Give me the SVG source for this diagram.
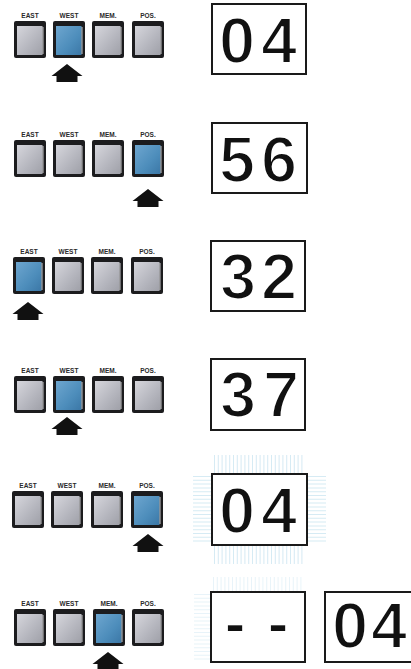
<svg xmlns="http://www.w3.org/2000/svg" width="411" height="669" viewBox="0 0 411 669">
<defs>
<linearGradient id="gGray" x1="0" y1="0" x2="1" y2="1">
<stop offset="0" stop-color="#d6d6dc"/><stop offset="0.6" stop-color="#b4b5bd"/><stop offset="1" stop-color="#9fa0a8"/>
</linearGradient>
<linearGradient id="gBlue" x1="0" y1="0" x2="1" y2="1">
<stop offset="0" stop-color="#6ea6cf"/><stop offset="0.6" stop-color="#4d8dbb"/><stop offset="1" stop-color="#3b77a6"/>
</linearGradient>
<style>
.frame{fill:#1c1c1e}
.face{fill:url(#gGray)}
.face.on{fill:url(#gBlue)}
.hl{stroke:#f2f2f4;stroke-width:1;fill:none;opacity:0.8}
.lbl{font-family:"Liberation Sans",Arial,sans-serif;font-size:6.5px;font-weight:bold;fill:#2a2a2a;text-anchor:middle}
.arrow{fill:#111}
.box{fill:#fff;stroke:#1a1a1a;stroke-width:2}
.dig{font-family:"Liberation Sans",Arial,sans-serif;font-size:65px;font-weight:bold;fill:#111;stroke:#fff;stroke-width:2.2;paint-order:normal;text-anchor:middle}
.glow{fill:none;stroke:#a6d3e8;stroke-dasharray:1 2.8}
</style>
<g id="btnG"><rect class="frame" width="32" height="37" rx="2"/><rect class="face" x="3" y="5" width="25.5" height="29"/><path class="hl" d="M29,6 V33"/></g>
<g id="btnB"><rect class="frame" width="32" height="37" rx="2"/><rect class="face on" x="3" y="5" width="25.5" height="29"/><path class="hl" d="M29,6 V33"/></g>
<path id="arr" d="M0,0 L15.5,12 L10.5,12 L10.5,18 L-10.5,18 L-10.5,12 L-15.5,12 Z"/>
</defs>
<rect width="411" height="669" fill="#fff"/>

<!-- Row 1 -->
<g id="row1">
<g id="r1-east" transform="translate(14,21)"><use href="#btnG"/><text class="lbl" x="16" y="-3">EAST</text></g>
<g id="r1-west" transform="translate(53,21)"><use href="#btnB"/><text class="lbl" x="16" y="-3">WEST</text></g>
<g id="r1-mem" transform="translate(92,21)"><use href="#btnG"/><text class="lbl" x="16" y="-3">MEM.</text></g>
<g id="r1-pos" transform="translate(132,21)"><use href="#btnG"/><text class="lbl" x="16" y="-3">POS.</text></g>
<g id="r1-display"><rect class="box" x="212" y="4" width="94" height="70"/><text class="dig" x="237 279" y="63">04</text></g>
</g>

<!-- Row 2 -->
<g id="row2">
<g id="r2-east" transform="translate(14,140)"><use href="#btnG"/><text class="lbl" x="16" y="-3">EAST</text></g>
<g id="r2-west" transform="translate(53,140)"><use href="#btnG"/><text class="lbl" x="16" y="-3">WEST</text></g>
<g id="r2-mem" transform="translate(92,140)"><use href="#btnG"/><text class="lbl" x="16" y="-3">MEM.</text></g>
<g id="r2-pos" transform="translate(132,140)"><use href="#btnB"/><text class="lbl" x="16" y="-3">POS.</text></g>
<g id="r2-display"><rect class="box" x="212" y="123" width="95" height="70"/><text class="dig" x="237 279" y="182">56</text></g>
</g>

<!-- Row 3 -->
<g id="row3">
<g id="r3-east" transform="translate(13,257)"><use href="#btnB"/><text class="lbl" x="16" y="-3">EAST</text></g>
<g id="r3-west" transform="translate(52,257)"><use href="#btnG"/><text class="lbl" x="16" y="-3">WEST</text></g>
<g id="r3-mem" transform="translate(91,257)"><use href="#btnG"/><text class="lbl" x="16" y="-3">MEM.</text></g>
<g id="r3-pos" transform="translate(131,257)"><use href="#btnG"/><text class="lbl" x="16" y="-3">POS.</text></g>
<g id="r3-display"><rect class="box" x="211" y="241" width="94" height="70"/><text class="dig" x="238 279" y="299">32</text></g>
</g>

<!-- Row 4 -->
<g id="row4">
<g id="r4-east" transform="translate(14,376)"><use href="#btnG"/><text class="lbl" x="16" y="-3">EAST</text></g>
<g id="r4-west" transform="translate(53,376)"><use href="#btnB"/><text class="lbl" x="16" y="-3">WEST</text></g>
<g id="r4-mem" transform="translate(92,376)"><use href="#btnG"/><text class="lbl" x="16" y="-3">MEM.</text></g>
<g id="r4-pos" transform="translate(132,376)"><use href="#btnG"/><text class="lbl" x="16" y="-3">POS.</text></g>
<g id="r4-display"><rect class="box" x="211" y="359" width="94" height="71"/><text class="dig" x="238 281" y="417">37</text></g>
</g>

<!-- Row 5 -->
<g id="row5">
<g id="r5-east" transform="translate(12,491)"><use href="#btnG"/><text class="lbl" x="16" y="-3">EAST</text></g>
<g id="r5-west" transform="translate(51,491)"><use href="#btnG"/><text class="lbl" x="16" y="-3">WEST</text></g>
<g id="r5-mem" transform="translate(91,491)"><use href="#btnG"/><text class="lbl" x="16" y="-3">MEM.</text></g>
<g id="r5-pos" transform="translate(131,491)"><use href="#btnB"/><text class="lbl" x="16" y="-3">POS.</text></g>
<g id="r5-display">
<g class="glow" opacity="0.45">
<line x1="214" y1="464" x2="305" y2="464" stroke-width="18"/>
<line x1="214" y1="555" x2="305" y2="555" stroke-width="18"/>
<line x1="202" y1="476" x2="202" y2="543" stroke-width="18"/>
<line x1="317" y1="476" x2="317" y2="543" stroke-width="18"/>
</g>
<rect class="box" x="212" y="474" width="95" height="71"/><text class="dig" x="237 279" y="533">04</text></g>
</g>

<!-- Row 6 -->
<g id="row6">
<g id="r6-east" transform="translate(14,609)"><use href="#btnG"/><text class="lbl" x="16" y="-3">EAST</text></g>
<g id="r6-west" transform="translate(53,609)"><use href="#btnG"/><text class="lbl" x="16" y="-3">WEST</text></g>
<g id="r6-mem" transform="translate(93,609)"><use href="#btnB"/><text class="lbl" x="16" y="-3">MEM.</text></g>
<g id="r6-pos" transform="translate(132,609)"><use href="#btnG"/><text class="lbl" x="16" y="-3">POS.</text></g>
<g id="r6-display1">
<g class="glow" opacity="0.25">
<line x1="213" y1="584" x2="303" y2="584" stroke-width="14"/>
<line x1="202" y1="594" x2="202" y2="660" stroke-width="16"/>
</g>
<rect class="box" x="211" y="592" width="94" height="70"/><text class="dig" x="235 278" y="645">--</text></g>
<g id="r6-display2"><rect class="box" x="325" y="592" width="94" height="70"/><text class="dig" x="350 389" y="648">04</text></g>
</g>

<!-- Pointer arrows -->
<g id="pointers" class="arrow">
<use href="#arr" x="67" y="64"/>
<use href="#arr" x="148" y="189"/>
<use href="#arr" x="28" y="302"/>
<use href="#arr" x="67" y="417"/>
<use href="#arr" x="148" y="534"/>
<use href="#arr" x="108" y="652"/>
</g>
</svg>
